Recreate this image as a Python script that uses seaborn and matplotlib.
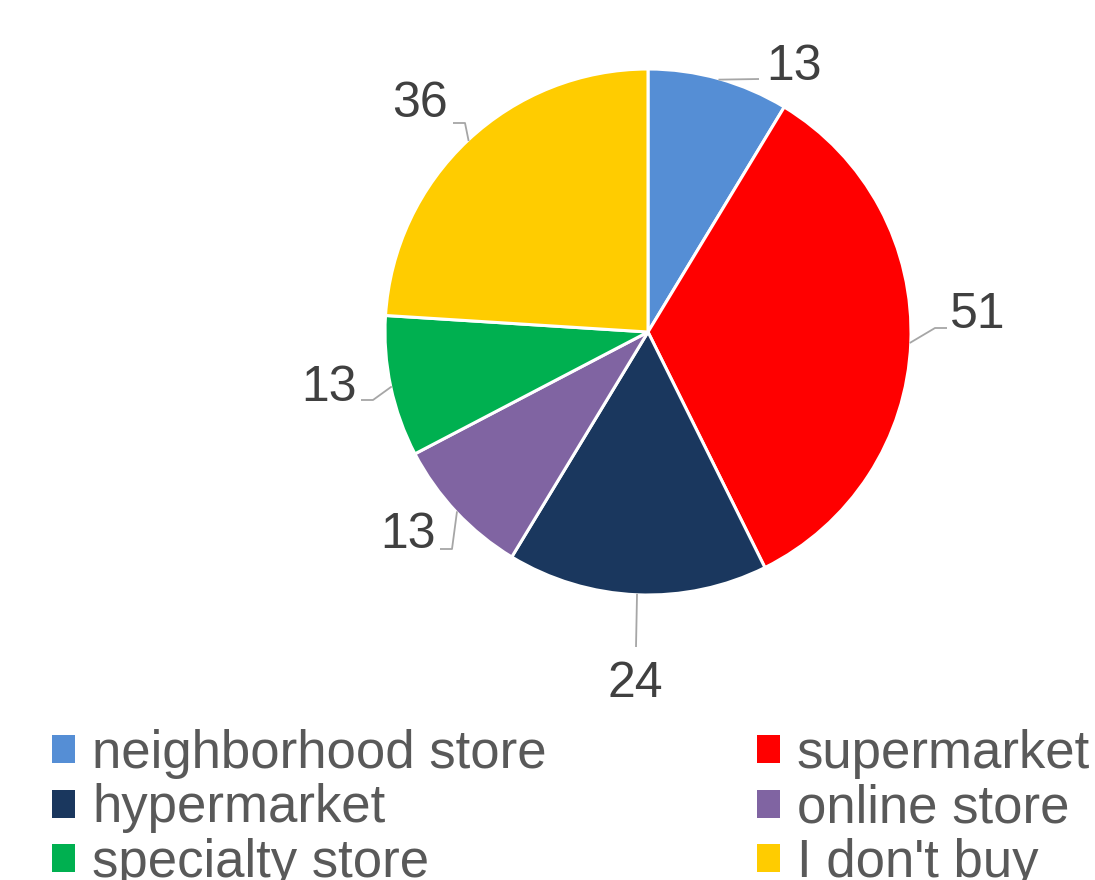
import matplotlib
matplotlib.use("Agg")
import matplotlib.pyplot as plt
import seaborn as sns
import numpy as np
from matplotlib.patches import Patch

# ---- data ----
categories = ["neighborhood store", "supermarket", "hypermarket",
              "online store", "specialty store", "I don't buy"]
values = [13, 51, 24, 13, 13, 36]
colors = ["#558ED5", "#FF0000", "#1A375E", "#8064A2", "#00B050", "#FFCC00"]

# ---- layout (pixels, y measured downward) ----
W, H = 1095, 880
CX, CY, R = 648, 332, 263
# label (x centre, baseline) offsets from pie centre
label_off = [(146, -252), (330, -4), (-13, 365), (-240, 216), (-319, 69), (-228, -215)]
# leader-line points after the wedge-edge point (absolute pixels)
leader_pts = [[(759, 79)], [(935, 328), (947, 328)], [(636, 647)],
              [(452, 549), (440, 549)], [(373, 400), (361, 400)],
              [(465, 123), (453, 123)]]

sns.set_theme(style="white")
plt.rcParams['font.family'] = ['Liberation Sans', 'DejaVu Sans']
palette = sns.color_palette(colors)

fig = plt.figure(figsize=(W / 100, H / 100), dpi=100)
ax = fig.add_axes([0, 0, 1, 1])
wedges, _ = ax.pie(values, colors=palette, startangle=90, counterclock=False,
                   center=(CX, H - CY), radius=R,
                   wedgeprops=dict(edgecolor="white", linewidth=2.2))
ax.set_xlim(0, W)
ax.set_ylim(0, H)
ax.set_aspect("auto")
ax.axis("off")

for w, v, (dx, dy), pts in zip(wedges, values, label_off, leader_pts):
    mid = np.deg2rad((w.theta1 + w.theta2) / 2)
    ex = CX + (R - 1) * np.cos(mid)
    ey = (H - CY) + (R - 1) * np.sin(mid)
    xs = [ex] + [p[0] for p in pts]
    ys = [ey] + [H - p[1] for p in pts]
    ax.plot(xs, ys, color="#A6A6A6", lw=1.3, solid_capstyle="butt")
    ax.text(CX + dx, H - (CY + dy), str(v), ha="center", va="baseline",
            fontsize=36, color="#404040")

order = [0, 2, 4, 1, 3, 5]
handles = [Patch(facecolor=palette[i], edgecolor="none") for i in order]
labels = [categories[i] for i in order]
fig.legend(handles, labels, ncol=2, loc="upper left",
           bbox_to_anchor=(52 / W, 1 - 729 / H), bbox_transform=fig.transFigure,
           frameon=False, fontsize=38, labelcolor="#595959",
           handlelength=0.44, handleheight=0.44, handletextpad=0.32,
           columnspacing=3.98, labelspacing=0.085, borderpad=0, borderaxespad=0)

fig.savefig("out.png", dpi=100)
